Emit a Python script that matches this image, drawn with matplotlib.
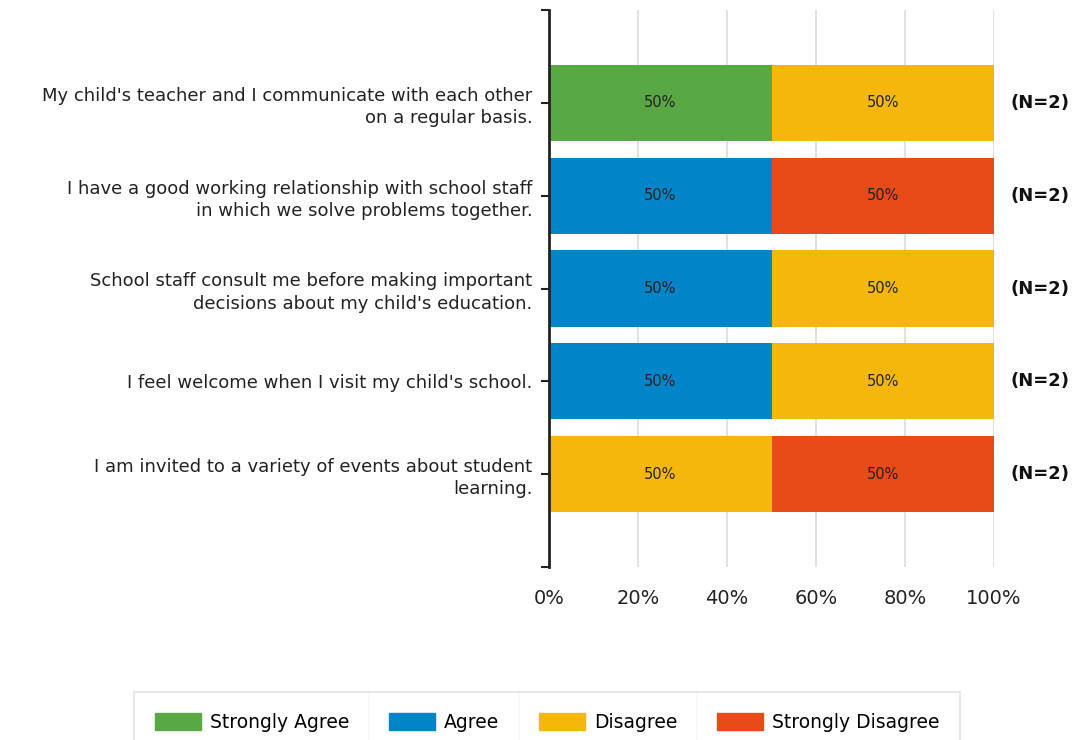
import matplotlib
matplotlib.use("Agg")
from matplotlib import pyplot as plt
from matplotlib.patches import Patch
from matplotlib.lines import Line2D

questions = [
    "My child's teacher and I communicate with each other\non a regular basis.",
    "I have a good working relationship with school staff\nin which we solve problems together.",
    "School staff consult me before making important\ndecisions about my child's education.",
    "I feel welcome when I visit my child's school.",
    "I am invited to a variety of events about student\nlearning.",
]
series_names = ["Strongly Agree", "Agree", "Disagree", "Strongly Disagree"]
strongly_agree = [50, 0, 0, 0, 0]
agree = [0, 50, 50, 50, 0]
disagree = [50, 0, 50, 50, 50]
strongly_disagree = [0, 50, 0, 0, 50]
n_counts = [2, 2, 2, 2, 2]
x_ticks = [0, 20, 40, 60, 80, 100]

colors = ["#5aa845", "#0086c8", "#f5b70c", "#e84a18"]

plt.rcParams['font.family'] = ['DejaVu Sans']

fig = plt.figure(figsize=(10.77, 7.40), dpi=100)
ax = fig.add_axes([549 / 1077, 1 - 567 / 740, 445 / 1077, 557 / 740])

ypos = list(range(len(questions)))
left = [0] * len(questions)
for name, vals, col in zip(series_names, [strongly_agree, agree, disagree, strongly_disagree], colors):
    bars = ax.barh(ypos, vals, left=left, height=0.82, color=col, label=name, zorder=3)
    for b, v in zip(bars, vals):
        if v > 0:
            ax.text(b.get_x() + b.get_width() / 2, b.get_y() + b.get_height() / 2,
                    "{0}%".format(v), ha='center', va='center', fontsize=10.5, color='#222222', zorder=4)
    left = [l + v for l, v in zip(left, vals)]

for y, n in zip(ypos, n_counts):
    ax.text(1.036, y, "(N={0})".format(n), transform=ax.get_yaxis_transform(),
            ha='left', va='center', fontsize=13, fontweight='bold', color='#111111')

ax.set_xlim(0, 100)
ax.set_ylim(len(questions), -1)
ax.set_xticks(x_ticks)
ax.set_xticklabels(["{0}%".format(t) for t in x_ticks], fontsize=14, color='#222222')
ax.set_yticks(ypos)
ax.set_yticklabels(questions, fontsize=13, color='#222222', linespacing=1.3)
ax.set_yticks([-1, len(questions)], minor=True)
ax.tick_params(axis='y', which='both', length=6, width=1.5, color='#222222', pad=6)
ax.tick_params(axis='x', length=0, pad=16)
ax.grid(axis='x', color='#dcdcdc', linewidth=1.2, zorder=0)
for s in ['top', 'right', 'bottom']:
    ax.spines[s].set_visible(False)
ax.spines['left'].set_linewidth(2)
ax.spines['left'].set_color('#222222')
ax.spines['left'].set_zorder(5)

handles = [Patch(facecolor=c, edgecolor=c) for c in colors]
leg = fig.legend(handles, series_names, loc='upper center', bbox_to_anchor=(547 / 1077, 1 - 692 / 740),
                 ncol=4, fontsize=13.5, frameon=True, fancybox=False, edgecolor='#dddddd',
                 handlelength=2.45, handleheight=1.0, columnspacing=2.1, borderpad=1.1,
                 handletextpad=0.5, borderaxespad=0)
leg.get_frame().set_linewidth(1.2)

# separators between legend cells
fig.canvas.draw()
r = fig.canvas.get_renderer()
texts = leg.get_texts()
hs = leg.legend_handles
fb = leg.get_frame().get_window_extent(r)
for i in range(1, len(texts)):
    x0 = texts[i - 1].get_window_extent(r).x1
    x1 = hs[i].get_window_extent(r).x0
    xm = (x0 + x1) / 2 / fig.bbox.width
    fig.add_artist(Line2D([xm, xm], [fb.y0 / fig.bbox.height, fb.y1 / fig.bbox.height],
                          transform=fig.transFigure, color='#dddddd', linewidth=1.2))

fig.savefig("out.png", dpi=100)
